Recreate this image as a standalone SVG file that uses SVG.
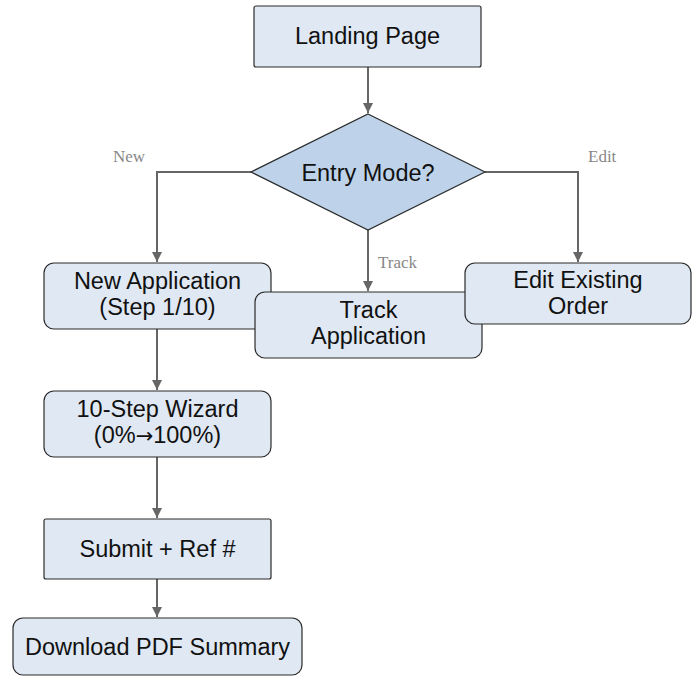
<svg xmlns="http://www.w3.org/2000/svg" width="697" height="677" viewBox="0 0 697 677">
<style>
.box{fill:#dfe8f3;stroke:#2b2b2b;stroke-width:1.2}
.dia{fill:#bed3ea;stroke:#2b2b2b;stroke-width:1.2}
.t{font-family:"Liberation Sans",Arial,sans-serif;font-size:23.5px;fill:#111;text-anchor:middle}
.ar{font-family:"DejaVu Sans",sans-serif;font-size:21px}
.lbl{font-family:"Liberation Serif","Times New Roman",serif;font-size:17px;fill:#888}
.c{fill:none;stroke:#666;stroke-width:2}
</style>
<defs>
<marker id="ah" viewBox="0 0 10 10" refX="10" refY="5" markerWidth="5" markerHeight="5" markerUnits="strokeWidth" orient="auto">
<path d="M0,0 L10,5 L0,10 z" fill="#666"/>
</marker>
</defs>
<rect width="697" height="677" fill="#fff"/>
<g id="connectors">
<path class="c" d="M368,67 V113" marker-end="url(#ah)"/>
<path class="c" d="M251,172 H157 V262" marker-end="url(#ah)"/>
<path class="c" d="M368,230 V291" marker-end="url(#ah)"/>
<path class="c" d="M485,172 H578 V262" marker-end="url(#ah)"/>
<path class="c" d="M157,329 V390" marker-end="url(#ah)"/>
<path class="c" d="M157,457 V518" marker-end="url(#ah)"/>
<path class="c" d="M157,579 V617" marker-end="url(#ah)"/>
<text class="lbl" x="113" y="162">New</text>
<text class="lbl" x="378" y="268">Track</text>
<text class="lbl" x="588" y="162">Edit</text>
</g>
<g id="landing">
<rect class="box" x="254" y="6" width="227" height="61" rx="2"/>
<text class="t" x="367.5" y="44">Landing Page</text>
</g>
<g id="entry">
<polygon class="dia" points="368,114 485,172 368,230 251,172"/>
<text class="t" x="368" y="181">Entry Mode?</text>
</g>
<g id="newapp">
<rect class="box" x="44" y="263" width="227" height="66" rx="10"/>
<text class="t" x="157.5" y="289">New Application</text>
<text class="t" x="157.5" y="315">(Step 1/10)</text>
</g>
<g id="track">
<rect class="box" x="255" y="292" width="227" height="66" rx="10"/>
<text class="t" x="368.5" y="318">Track</text>
<text class="t" x="368.5" y="344">Application</text>
</g>
<g id="edit">
<rect class="box" x="465" y="263" width="226" height="61" rx="10"/>
<text class="t" x="578" y="288">Edit Existing</text>
<text class="t" x="578" y="314">Order</text>
</g>
<g id="wizard">
<rect class="box" x="44" y="391" width="227" height="66" rx="10"/>
<text class="t" x="157.5" y="417">10-Step Wizard</text>
<text class="t" x="157.5" y="443">(0%<tspan class="ar">→</tspan>100%)</text>
</g>
<g id="submit">
<rect class="box" x="44" y="519" width="227" height="60" rx="2"/>
<text class="t" x="157.5" y="557">Submit + Ref #</text>
</g>
<g id="download">
<rect class="box" x="13" y="618" width="289" height="57" rx="10"/>
<text class="t" x="157.5" y="655">Download PDF Summary</text>
</g>
</svg>
